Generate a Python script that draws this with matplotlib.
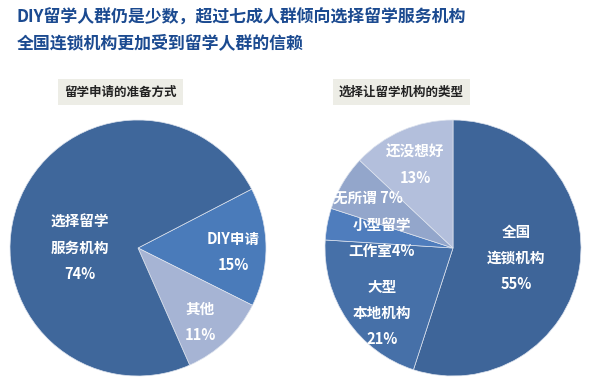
import matplotlib
matplotlib.use('Agg')
import matplotlib.pyplot as plt

plt.rcParams['font.family'] = ['Noto Sans CJK SC', 'DejaVu Sans']

# data
title_lines = ['DIY留学人群仍是少数，超过七成人群倾向选择留学服务机构',
               '全国连锁机构更加受到留学人群的信赖']

left_title = '留学申请的准备方式'
left_labels = ['DIY申请', '其他', '选择留学\n服务机构']
left_values = [15, 11, 74]

right_title = '选择让留学机构的类型'
right_labels = ['全国\n连锁机构', '大型\n本地机构', '小型留学\n工作室', '无所谓', '还没想好']
right_values = [55, 21, 4, 7, 13]

# styles
left_colors = ['#4A7BBA', '#A6B4D4', '#3F679B']
right_colors = ['#3E6599', '#4670A8', '#4F7DBD', '#93A6CB', '#B3BFDC']
# label centres, pixel coords of the 600x388 picture
left_label_px = [(233, 252), (200, 322), (80, 248)]
right_label_px = [(516, 258), (382, 313), (382, 238), (368, 198), (415, 165)]
right_label_fmt = ['{l}\n{v}%', '{l}\n{v}%', '{l}{v}%', '{l} {v}%', '{l}\n{v}%']

W, H = 600, 388
R = 128


def pie_axes(fig, cx, cy):
    ax = fig.add_axes([(cx - R) / W, (H - cy - R) / H, 2 * R / W, 2 * R / H])
    return ax


def px_to_data(px, py, cx, cy):
    return (px - cx) / R, (cy - py) / R


def draw_pie(ax, values, colors, start):
    ax.pie(values, colors=colors, startangle=start, counterclock=False,
           radius=1, center=(0, 0), frame=True,
           wedgeprops=dict(linewidth=0.5, edgecolor='#DDE3EE'))
    ax.axis('off')
    ax.set_xlim(-1, 1)
    ax.set_ylim(-1, 1)


fig = plt.figure(figsize=(6, 3.88), dpi=100)
fig.patch.set_facecolor('white')

for i, line in enumerate(title_lines):
    fig.text(17 / W, 1 - (18 + i * 25) / H, line, fontsize=12.2, fontweight='bold',
             color='#1B4A90', ha='left', va='center')

for txt, bx, bw in [(left_title, 58, 125), (right_title, 333, 137)]:
    fig.text((bx + bw / 2) / W, 1 - 92 / H, txt, fontsize=9, fontweight='bold',
             color='#222222', ha='center', va='center',
             bbox=dict(boxstyle='square,pad=0.5', facecolor='#EDEDE6', edgecolor='none'))

# left pie
lcx, lcy = 138, 248
ax0 = pie_axes(fig, lcx, lcy)
draw_pie(ax0, left_values, left_colors, 27.4)
for lab, val, (px, py) in zip(left_labels, left_values, left_label_px):
    x, y = px_to_data(px, py, lcx, lcy)
    ax0.text(x, y, f'{lab}\n{val}%', ha='center', va='center', color='white',
             fontsize=10.5, fontweight='bold', linespacing=1.8)

# right pie
rcx, rcy = 453, 248
ax1 = pie_axes(fig, rcx, rcy)
draw_pie(ax1, right_values, right_colors, 90)
for lab, val, fmt, (px, py) in zip(right_labels, right_values, right_label_fmt, right_label_px):
    x, y = px_to_data(px, py, rcx, rcy)
    ax1.text(x, y, fmt.format(l=lab, v=val), ha='center', va='center', color='white',
             fontsize=10.5, fontweight='bold', linespacing=1.8)

fig.savefig('out.png', dpi=100, facecolor='white')
